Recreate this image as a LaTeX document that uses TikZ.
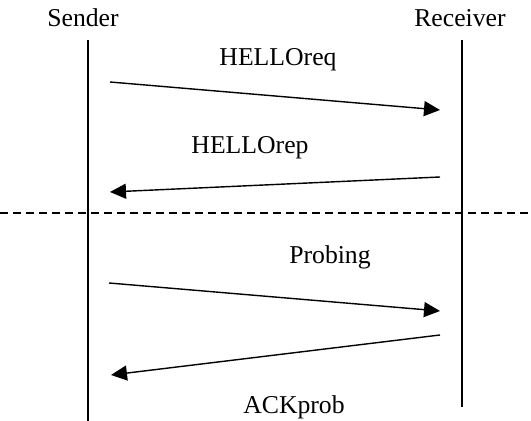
\documentclass[tikz,border=0pt]{standalone}
\usepackage{fontspec}
\setmainfont{Liberation Serif}
\usetikzlibrary{arrows.meta,positioning}

\begin{document}
\begin{tikzpicture}[x=0.5pt,y=-0.5pt,font=\fontsize{12.85}{15}\selectfont,
    msg/.style={-{Triangle[length=8pt,width=7.5pt]},line width=0.7pt},
    life/.style={line width=1pt},
    lbl/.style={anchor=base,inner sep=0pt}]
  \useasboundingbox (0,0) rectangle (531,421);
  \node[lbl] (sender) at (83,27) {Sender};
  \node[lbl] (receiver) at (460,27) {Receiver};
  \coordinate (s_top) at (88,40);  \coordinate (s_bot) at (88,421);
  \coordinate (r_top) at (462,40); \coordinate (r_bot) at (462,407);
  \draw[life] (s_top) -- (s_bot);
  \draw[life] (r_top) -- (r_bot);
  % hello exchange
  \coordinate (req_a) at (110,82);  \coordinate (req_b) at (440,110);
  \coordinate (rep_a) at (440,177); \coordinate (rep_b) at (110,192);
  \draw[msg] (req_a) -- (req_b);
  \draw[msg] (rep_a) -- (rep_b);
  \node[lbl] (hreq) at (278,66) {HELLOreq};
  \node[lbl] (hrep) at (250,154) {HELLOrep};
  % separator
  \coordinate (sep_l) at (0,213); \coordinate (sep_r) at (531,213);
  \draw[line width=0.7pt,dash pattern=on 4pt off 2.5pt] (sep_l) -- (sep_r);
  % probing
  \coordinate (prb_a) at (109,283); \coordinate (prb_b) at (440,311);
  \coordinate (ack_a) at (440,335); \coordinate (ack_b) at (111,375);
  \draw[msg] (prb_a) -- (prb_b);
  \draw[msg] (ack_a) -- (ack_b);
  \node[lbl] (probing) at (330,264) {Probing};
  \node[lbl] (ackprob) at (294,414) {ACKprob};
\end{tikzpicture}
\end{document}
